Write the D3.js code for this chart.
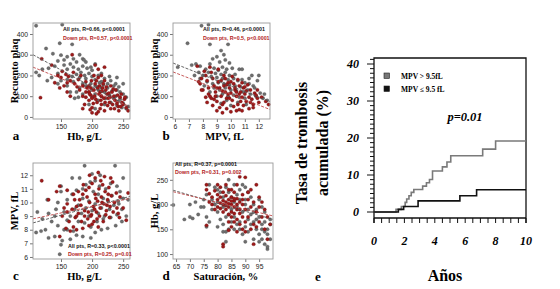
<!DOCTYPE html>
<html>
<head>
<meta charset="utf-8">
<script src="https://cdn.jsdelivr.net/npm/d3@7"></script>
<style>
  body { margin: 0; background: #fff; }
  svg { display: block; }
</style>
</head>
<body>
<div id="chart"></div>
<script>
// ---------------------------------------------------------------
// data

// a: Hb (g/L) vs platelet count
const aGray = [[110,440],[152,445],[148,355],[168,350],[126,330],[137,305],[150,298],[160,290],[155,275],[145,270],[170,280],[175,265],[180,300],[185,280],[190,265],[165,255],[155,250],[140,245],[130,235],[120,230],[110,215],[115,200],[135,190],[128,175],[145,210],[160,230],[170,240],[178,230],[185,245],[192,235],[200,225],[195,210],[188,200],[182,215],[175,205],[168,195],[160,180],[150,175],[145,160],[170,170],[180,190],[190,185],[200,195],[205,180],[210,200],[215,170],[220,185],[225,160],[230,175],[235,150],[240,130],[245,120],[250,110],[255,95],[215,140],[205,150],[198,160],[210,130],[220,120],[228,105],[235,90],[242,75],[250,65],[258,50],[238,100],[245,85],[225,140],[218,155],[212,165],[200,130],[190,150],[185,160],[195,120],[205,110],[215,100],[222,90],[230,70],[240,55],[248,45],[255,40],[200,95],[210,80],[180,140],[172,90],[165,120],[160,150],[175,120],[208,145],[232,125],[238,160],[243,145],[215,210],[228,195],[240,190],[250,160],[195,60],[205,40],[220,60],[185,110],[178,95],[198,240],[205,255],[187,275]];
const aRed = [[119,280],[117,93],[135,250],[140,165],[145,200],[150,190],[152,220],[158,205],[162,195],[165,175],[160,165],[155,150],[170,215],[172,160],[178,180],[168,300],[180,130],[185,150],[190,170],[192,140],[195,120],[198,105],[200,90],[195,80],[190,95],[188,60],[200,45],[203,130],[205,160],[207,175],[210,190],[212,150],[213,120],[215,100],[217,140],[218,160],[220,175],[222,130],[224,110],[226,90],[228,70],[230,150],[232,120],[235,100],[237,80],[240,65],[242,50],[245,95],[248,70],[250,60],[255,45],[258,30],[205,250],[210,230],[220,240],[215,200],[200,20],[210,25],[220,30],[230,40],[225,55],[215,60],[208,70],[202,65],[196,110],[198,140],[204,100],[206,85],[211,110],[214,80],[219,90],[221,70],[227,115],[233,60],[236,40],[243,30],[195,150],[190,120],[185,100],[182,200],[176,145],[207,15],[213,40],[238,130],[247,110],[252,85],[199,175],[203,200],[209,140],[216,125],[223,145],[229,95],[234,135],[241,105],[246,50],[253,95],[185,40],[197,35],[165,100],[148,140],[160,120]];
const aFitAll = [[105,300],[261,45]];
const aFitDown = [[105,240],[261,50]];

// b: MPV (fL) vs platelet count
const bGray = [[7.9,440],[8.4,445],[6.9,355],[8.5,350],[9.8,350],[9.3,320],[9.5,300],[9.0,290],[8.7,280],[9.6,275],[9.2,265],[9.9,260],[8.5,255],[7.5,255],[7.2,250],[6.2,240],[7.8,245],[8.2,230],[8.8,235],[9.1,225],[9.4,240],[9.7,230],[10.1,235],[10.6,230],[8.4,215],[8.9,210],[9.3,205],[9.6,215],[9.9,200],[10.3,205],[8.0,200],[7.7,215],[8.6,195],[9.0,190],[9.4,185],[9.8,180],[10.2,185],[10.5,175],[10.8,180],[11.0,165],[11.3,160],[11.6,150],[11.9,175],[12.0,200],[11.5,200],[11.2,130],[11.7,140],[12.1,115],[12.6,80],[12.4,110],[8.3,170],[8.7,160],[9.1,165],[9.5,160],[9.9,155],[10.3,150],[10.7,145],[8.8,140],[9.2,130],[9.6,140],[10.0,130],[10.4,125],[10.9,120],[11.4,110],[11.8,100],[9.4,110],[9.8,100],[10.2,105],[10.6,95],[11.0,90],[9.0,100],[8.5,120],[7.8,185],[7.4,200],[8.1,150],[10.8,230],[11.3,185],[9.7,80],[10.5,70],[11.1,60],[12.3,90],[9.3,65],[10.0,55]];
const bRed = [[7.6,245],[7.9,185],[7.8,160],[8.0,130],[8.2,200],[8.3,175],[8.4,110],[8.6,90],[8.5,240],[8.7,185],[8.8,150],[8.9,120],[9.0,75],[9.1,170],[9.2,140],[9.3,100],[9.4,60],[9.5,200],[9.5,150],[9.6,120],[9.7,90],[9.8,165],[9.9,140],[10.0,115],[10.1,80],[10.2,160],[10.3,130],[10.4,100],[10.5,60],[10.6,150],[10.7,120],[10.8,95],[10.9,140],[11.0,110],[11.1,75],[11.2,155],[11.3,95],[11.4,130],[11.5,85],[11.6,60],[11.7,115],[11.9,90],[12.0,70],[12.2,95],[11.6,45],[9.0,30],[9.4,20],[9.7,40],[10.0,25],[10.4,30],[8.7,55],[8.3,70],[8.9,100],[9.3,175],[9.6,185],[10.1,195],[10.5,180],[10.8,165],[9.1,230],[8.6,215],[8.1,220],[7.9,130],[8.4,140],[9.8,110],[10.2,50],[10.9,55],[11.3,40],[10.6,35],[9.2,45],[8.8,85],[9.5,70],[10.7,75],[11.8,105],[12.5,75],[12.7,60],[10.3,140],[9.9,90],[11.1,125],[8.5,100],[9.7,155],[10.0,170],[10.4,120],[11.4,70],[7.7,170],[8.2,95],[9.0,140],[9.4,125],[10.6,110],[11.0,145],[11.9,130],[10.8,30]];
const bFitAll = [[5.86,260],[12.8,74]];
const bFitDown = [[5.86,217],[12.8,36]];

// c: Hb (g/L) vs MPV
const cGray = [[148,6.2],[150,6.9],[152,7.2],[140,7.5],[130,7.4],[118,7.9],[125,8.0],[110,7.8],[135,8.6],[145,8.3],[160,8.0],[170,7.9],[175,7.6],[185,7.5],[198,7.4],[205,7.8],[215,8.0],[225,8.1],[238,8.3],[248,8.6],[255,9.0],[120,8.8],[130,9.2],[142,9.5],[155,9.3],[165,9.0],[172,9.5],[178,9.8],[183,9.2],[190,9.6],[195,9.0],[200,9.4],[205,9.9],[210,9.2],[215,9.6],[220,9.0],[228,9.5],[235,9.8],[242,10.1],[250,10.3],[258,10.2],[145,10.0],[160,10.2],[168,10.6],[175,10.9],[185,11.0],[190,11.3],[197,11.5],[205,11.6],[212,11.2],[222,11.0],[230,11.4],[240,11.2],[188,12.7],[237,12.7],[200,12.1],[180,11.8],[168,11.8],[150,11.2],[150,10.8],[210,10.6],[218,10.3],[226,10.1],[232,10.5],[245,10.8],[195,10.1],[185,10.3],[178,8.6],[188,8.5],[198,8.2],[208,8.6],[218,8.8],[230,8.9],[240,9.1],[248,9.5],[160,8.7],[140,9.0],[155,8.0],[165,7.3],[112,9.3],[128,10.2],[250,11.8],[202,10.8],[213,12.0],[243,9.9]];
const cRed = [[119,11.6],[130,10.2],[148,11.2],[143,10.8],[155,9.6],[160,9.3],[158,8.1],[165,7.9],[170,8.2],[175,8.0],[185,8.1],[195,8.3],[160,9.9],[168,9.5],[172,10.2],[178,9.2],[182,9.8],[188,9.4],[192,10.4],[196,10.0],[199,9.1],[202,9.7],[205,10.6],[207,9.3],[209,10.1],[211,11.0],[213,9.6],[215,10.4],[217,11.3],[219,9.9],[221,10.8],[223,9.4],[225,10.2],[227,11.1],[229,9.7],[231,10.5],[233,11.5],[236,10.0],[239,10.7],[242,9.2],[245,10.4],[250,9.6],[255,8.7],[258,10.7],[200,11.4],[205,11.8],[195,11.1],[190,10.9],[185,10.6],[180,10.2],[175,9.7],[198,9.0],[203,8.6],[208,8.8],[212,9.0],[218,8.6],[222,9.1],[228,8.9],[234,9.3],[240,9.6],[200,8.4],[210,8.2],[188,9.0],[194,9.3],[214,11.6],[220,11.9],[230,11.8],[210,12.2],[196,12.0],[226,10.6],[216,10.0],[206,10.3],[186,11.3],[178,10.8],[170,10.6],[160,10.9],[152,9.0],[163,8.6],[173,8.9],[183,8.6],[193,8.8],[204,9.5],[224,9.8],[244,8.9],[148,7.5],[175,9.0]];
const cFitAll = [[105,8.5],[261,10.45]];
const cFitDown = [[105,8.8],[261,10.3]];

// d: saturation (%) vs Hb
const dGray = [[64,199],[68,170],[71,172],[70,200],[72,205],[74,195],[75,210],[73,180],[76,175],[77,165],[78,190],[79,200],[80,185],[81,170],[82,160],[83,145],[84,150],[85,165],[86,175],[87,160],[88,150],[89,140],[90,155],[91,170],[92,180],[93,165],[94,150],[95,140],[96,130],[97,120],[98,110],[98,115],[97,145],[96,160],[95,175],[94,190],[93,200],[92,215],[91,225],[90,235],[89,240],[88,230],[87,220],[86,205],[85,215],[84,225],[83,235],[82,215],[81,225],[80,205],[79,235],[78,210],[77,240],[76,220],[75,195],[84,250],[86,240],[90,200],[91,190],[93,185],[95,210],[96,195],[97,185],[99,170],[99,160],[98,140],[95,125],[93,130],[90,125],[88,165],[86,150],[84,180],[82,195],[80,230],[83,175],[85,190],[87,195],[89,185],[91,145],[92,160],[94,170],[96,150],[97,165],[98,150],[99,130],[90,210],[88,210],[82,145],[80,155],[76,155],[70,175],[83,125]];
const dRed = [[76,240],[76,230],[76,158],[77,222],[78,215],[79,228],[80,210],[81,215],[82,200],[82,225],[83,205],[83,218],[84,195],[84,210],[84,230],[85,200],[85,215],[85,185],[86,208],[86,195],[86,225],[87,190],[87,212],[87,240],[88,205],[88,182],[88,256],[89,200],[89,220],[89,175],[90,190],[90,255],[91,210],[91,175],[92,195],[92,150],[93,205],[93,120],[94,185],[94,155],[95,195],[95,165],[96,175],[97,150],[98,130],[98,175],[80,195],[81,192],[82,185],[83,190],[84,180],[85,175],[86,165],[87,170],[88,160],[89,150],[90,165],[82,120],[82,115],[84,148],[85,230],[83,240],[80,240],[79,190],[78,200],[77,205],[81,235],[86,182],[87,200],[83,198],[84,202],[85,207],[86,212],[82,208],[81,203],[80,220],[88,190],[89,210],[91,225],[92,230],[94,240],[95,215],[96,205],[97,190],[99,160],[85,155],[84,165],[87,145],[90,145],[93,160]];
const dFitAll = [[63.9,229],[100,170]];
const dFitDown = [[63.9,226],[100,177]];

// e: cumulative thrombosis rate (%) by years
const eHigh = [[0,0],[1.45,0.7],[1.8,1.5],[2.05,2.6],[2.15,3.5],[2.3,4.4],[2.45,5.3],[2.62,6.1],[3.2,7.0],[3.45,7.9],[3.65,8.8],[3.85,11.1],[4.5,12.2],[4.8,13.5],[5.05,15.2],[7.15,17.0],[8.0,19.2],[10,19.2]];
const eLow = [[0,0],[1.6,0.7],[1.95,1.5],[2.9,3.0],[5.65,4.4],[6.75,6.0],[10,6.0]];
const eXTicks = [0,2,4,6,8,10];
const eYTicks = [0,10,20,30,40];

// ---------------------------------------------------------------

const width = 560, height = 289;
const serif = "'Liberation Serif', 'Times New Roman', serif";
const sans = "'Liberation Sans', Arial, sans-serif";
const grayPt = "#6e6e6e", redPt = "#9e1a1a", redTxt = "#b22222";

const svg = d3.select("#chart").append("svg")
  .attr("width", width)
  .attr("height", height);

function makeScatter(p) {
  const x = d3.scaleLinear().domain(p.xDomain).range([p.box[0], p.box[2]]);
  const y = d3.scaleLinear().domain(p.yDomain).range([p.box[3], p.box[1]]);
  const g = svg.append("g");

  // ticks
  g.append("g")
    .attr("transform", `translate(0,${p.box[3]})`)
    .call(d3.axisBottom(x).tickValues(p.xTicks).tickFormat(d3.format("d")).tickSize(3).tickPadding(2))
    .call(ax => ax.select(".domain").remove())
    .call(ax => ax.selectAll("line").attr("stroke", "#777"))
    .call(ax => ax.selectAll("text").attr("font-family", sans).attr("font-size", 6.8).attr("fill", "#222"));
  g.append("g")
    .attr("transform", `translate(${p.box[0]},0)`)
    .call(d3.axisLeft(y).tickValues(p.yTicks).tickFormat(d3.format("d")).tickSize(3).tickPadding(2))
    .call(ax => ax.select(".domain").remove())
    .call(ax => ax.selectAll("line").attr("stroke", "#777"))
    .call(ax => ax.selectAll("text").attr("font-family", sans).attr("font-size", 6.8).attr("fill", "#222"));

  // points
  g.append("g").selectAll("circle")
    .data(p.gray)
    .join("circle")
    .attr("cx", d => x(d[0]))
    .attr("cy", d => y(d[1]))
    .attr("r", 1.7)
    .attr("fill", grayPt)
    .attr("stroke", "#444")
    .attr("stroke-width", 0.3);
  g.append("g").selectAll("circle")
    .data(p.red)
    .join("circle")
    .attr("cx", d => x(d[0]))
    .attr("cy", d => y(d[1]))
    .attr("r", 1.7)
    .attr("fill", redPt)
    .attr("stroke", "#5a0c0c")
    .attr("stroke-width", 0.3);

  // fit lines
  const line = d3.line().x(d => x(d[0])).y(d => y(d[1]));
  g.append("path").attr("d", line(p.fitAll))
    .attr("fill", "none").attr("stroke", "#555").attr("stroke-width", 0.9)
    .attr("stroke-dasharray", "3,1.5");
  g.append("path").attr("d", line(p.fitDown))
    .attr("fill", "none").attr("stroke", "#c04848").attr("stroke-width", 0.9)
    .attr("stroke-dasharray", "3,1.5");

  // box
  g.append("rect")
    .attr("x", p.box[0]).attr("y", p.box[1])
    .attr("width", p.box[2] - p.box[0]).attr("height", p.box[3] - p.box[1])
    .attr("fill", "none").attr("stroke", "#9a9a9a").attr("stroke-width", 0.9);

  // annotations
  p.notes.forEach((n, i) => {
    g.append("text")
      .attr("x", n[0]).attr("y", n[1])
      .attr("font-family", sans).attr("font-size", 5.3).attr("font-weight", "bold")
      .attr("fill", i === 0 ? "#111" : redTxt)
      .text(n[2]);
  });

  // titles
  const cx = (p.box[0] + p.box[2]) / 2, cy = (p.box[1] + p.box[3]) / 2;
  g.append("text")
    .attr("x", cx + 3).attr("y", p.box[3] + 21)
    .attr("text-anchor", "middle")
    .attr("font-family", serif).attr("font-weight", "bold").attr("font-size", 10.5)
    .text(p.xTitle);
  g.append("text")
    .attr("transform", `translate(${p.box[0] - 15},${cy}) rotate(-90)`)
    .attr("text-anchor", "middle")
    .attr("font-family", serif).attr("font-weight", "bold").attr("font-size", 10.5)
    .text(p.yTitle);
  g.append("text")
    .attr("x", p.letterX).attr("y", p.box[3] + 21)
    .attr("text-anchor", "middle")
    .attr("font-family", serif).attr("font-weight", "bold").attr("font-size", 13)
    .text(p.letter);
}

makeScatter({
  box: [33, 23, 130, 119], xDomain: [105, 261], yDomain: [-10, 453],
  xTicks: [150, 200, 250], yTicks: [0, 100, 200, 300, 400],
  gray: aGray, red: aRed, fitAll: aFitAll, fitDown: aFitDown,
  notes: [[63, 31, "All pts, R=0.66, p<0.0001"], [63, 40, "Down pts, R=0.57, p<0.0001"]],
  xTitle: "Hb, g/L", yTitle: "Recuento plaq", letter: "a", letterX: 16
});
makeScatter({
  box: [173, 23, 270, 119], xDomain: [5.86, 12.8], yDomain: [-10, 453],
  xTicks: [6, 7, 8, 9, 10, 11, 12], yTicks: [0, 100, 200, 300, 400],
  gray: bGray, red: bRed, fitAll: bFitAll, fitDown: bFitDown,
  notes: [[203, 31, "All pts, R=0.46, p<0.0001"], [203, 40, "Down pts, R=0.5, p<0.0001"]],
  xTitle: "MPV, fL", yTitle: "Recuento plaq", letter: "b", letterX: 166
});
makeScatter({
  box: [33, 163, 130, 259], xDomain: [105, 261], yDomain: [5.85, 12.9],
  xTicks: [150, 200, 250], yTicks: [6, 7, 8, 9, 10, 11, 12],
  gray: cGray, red: cRed, fitAll: cFitAll, fitDown: cFitDown,
  notes: [[68, 248, "All pts, R=0.33, p<0.0001"], [68, 256, "Down pts, R=0.25, p=0.01"]],
  xTitle: "Hb, g/L", yTitle: "MPV, fL", letter: "c", letterX: 16
});
makeScatter({
  box: [173, 163, 273, 259], xDomain: [63.9, 100], yDomain: [90, 284],
  xTicks: [65, 70, 75, 80, 85, 90, 95], yTicks: [100, 150, 200, 250],
  gray: dGray, red: dRed, fitAll: dFitAll, fitDown: dFitDown,
  notes: [[175, 166, "All pts, R=0.37, p=0.0001"], [175, 174, "Down pts, R=0.31, p=0.002"]],
  xTitle: "Saturación, %", yTitle: "Hb, g/L", letter: "d", letterX: 166
});

// ---------------------------------------------------------------
// panel e: step curves

const ex = d3.scaleLinear().domain([0, 10]).range([374, 526]);
const ey = d3.scaleLinear().domain([0, 40]).range([212, 64]);
const eTop = 58, eAxis = 218, eBottom = 223;
const ge = svg.append("g");

// frame
ge.append("path")
  .attr("d", `M${ex(0)},${eBottom}V${eTop}H${ex(10)}V${eBottom}M${ex(0)},${eAxis}H${ex(10)}`)
  .attr("fill", "none").attr("stroke", "#111").attr("stroke-width", 1.3);

// x minor ticks every half year
ge.append("g").selectAll("line")
  .data(d3.range(0, 10.01, 0.5))
  .join("line")
  .attr("x1", d => ex(d)).attr("x2", d => ex(d))
  .attr("y1", eAxis).attr("y2", eBottom)
  .attr("stroke", "#111").attr("stroke-width", 1);

// y ticks
ge.append("g").selectAll("line")
  .data(d3.range(0, 41.3, 1.25))
  .join("line")
  .attr("x1", d => ex(0) - (d % 10 === 0 ? 7 : 4)).attr("x2", ex(0))
  .attr("y1", d => ey(d)).attr("y2", d => ey(d))
  .attr("stroke", "#111").attr("stroke-width", 1);

ge.append("g").selectAll("text")
  .data(eYTicks)
  .join("text")
  .attr("x", 359).attr("y", d => ey(d)).attr("dy", "0.35em")
  .attr("text-anchor", "end")
  .attr("font-family", serif).attr("font-weight", "bold").attr("font-style", "italic").attr("font-size", 12)
  .text(d => d);

ge.append("g").selectAll("text")
  .data(eXTicks)
  .join("text")
  .attr("x", d => ex(d)).attr("y", 245)
  .attr("text-anchor", "middle")
  .attr("font-family", serif).attr("font-weight", "bold").attr("font-style", "italic").attr("font-size", 12)
  .text(d => d);

const step = d3.line().curve(d3.curveStepAfter).x(d => ex(d[0])).y(d => ey(d[1]));
ge.append("path").attr("d", step(eHigh))
  .attr("fill", "none").attr("stroke", "#7a7a7a").attr("stroke-width", 1.6);
ge.append("path").attr("d", step(eLow))
  .attr("fill", "none").attr("stroke", "#111").attr("stroke-width", 1.6);

// legend
const legend = [["MPV > 9.5fL", "#777", 76], ["MPV \u2264 9.5 fL", "#111", 89]];
legend.forEach(l => {
  ge.append("rect")
    .attr("x", 384).attr("y", l[2] - 3).attr("width", 5.5).attr("height", 5.5)
    .attr("fill", l[1]).attr("stroke", "#222").attr("stroke-width", 0.6);
  ge.append("text")
    .attr("x", 401).attr("y", l[2]).attr("dy", "0.35em")
    .attr("font-family", serif).attr("font-weight", "bold").attr("font-size", 7.5)
    .text(l[0]);
});

ge.append("text")
  .attr("x", 465).attr("y", 121)
  .attr("text-anchor", "middle")
  .attr("font-family", serif).attr("font-weight", "bold").attr("font-style", "italic").attr("font-size", 12.5)
  .text("p=0.01");

// titles
ge.append("text")
  .attr("transform", "translate(301,143) rotate(-90)")
  .attr("text-anchor", "middle").attr("dy", "0.35em")
  .attr("font-family", serif).attr("font-weight", "bold").attr("font-size", 16)
  .text("Tasa de trombosis");
ge.append("text")
  .attr("transform", "translate(322,143) rotate(-90)")
  .attr("text-anchor", "middle").attr("dy", "0.35em")
  .attr("font-family", serif).attr("font-weight", "bold").attr("font-size", 16)
  .text("acumulada (%)");
ge.append("text")
  .attr("x", 445).attr("y", 281)
  .attr("text-anchor", "middle")
  .attr("font-family", serif).attr("font-weight", "bold").attr("font-size", 16)
  .text("Años");
ge.append("text")
  .attr("x", 318).attr("y", 281)
  .attr("text-anchor", "middle")
  .attr("font-family", serif).attr("font-weight", "bold").attr("font-size", 13)
  .text("e");
</script>
</body>
</html>
